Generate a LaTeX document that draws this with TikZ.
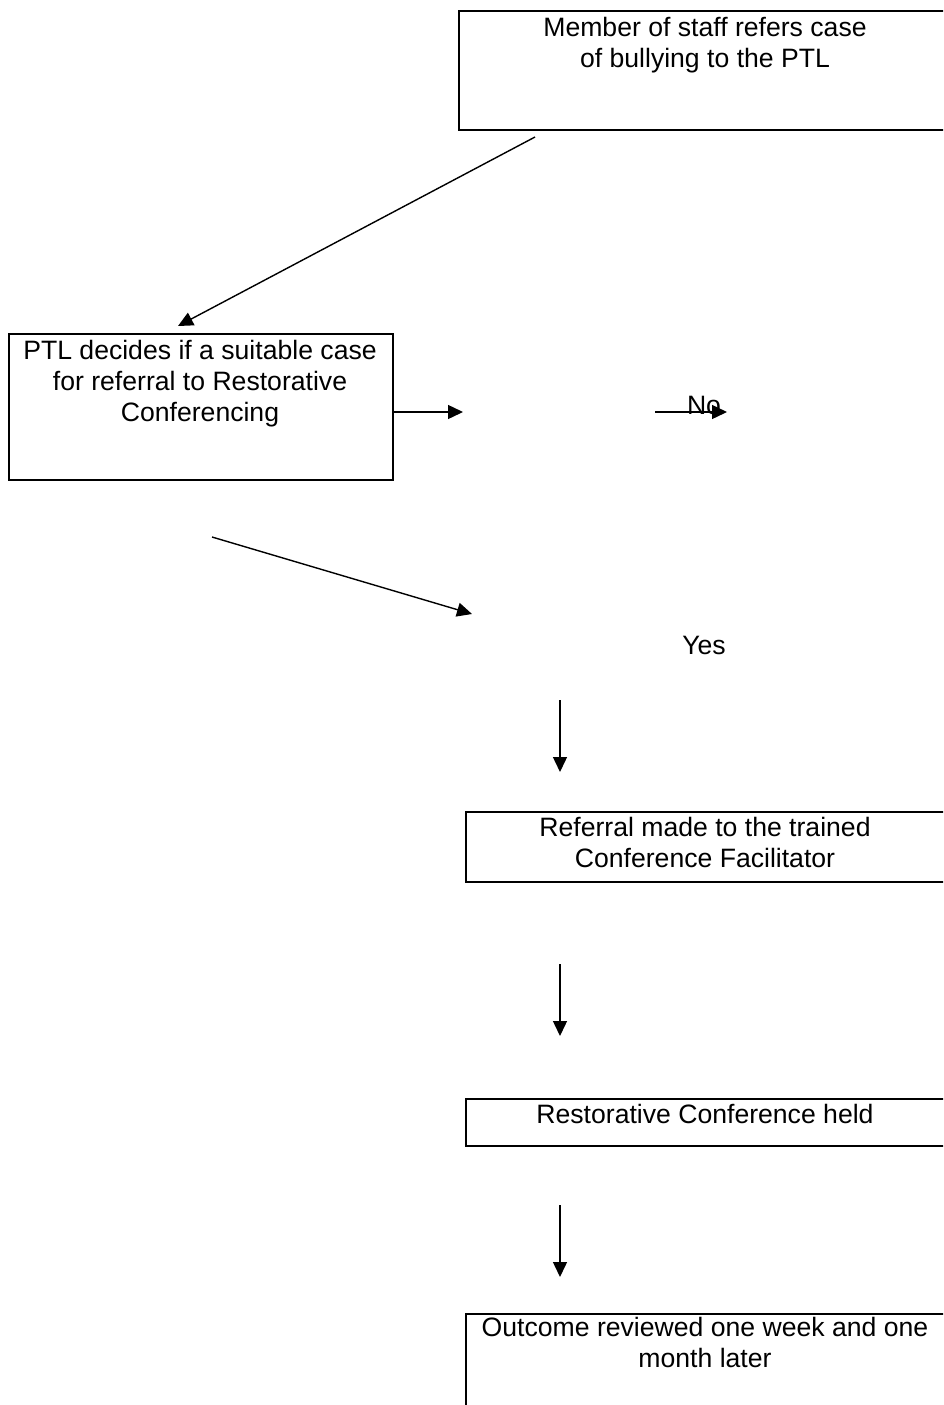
\documentclass[tikz,border=0pt]{standalone}
\usepackage{fontspec}
\setmainfont{Liberation Sans}
\usetikzlibrary{arrows.meta}
\begin{document}
\begin{tikzpicture}[x=1pt,y=-1pt,
  box/.style={draw,line width=1.6pt,rectangle,inner sep=0pt,anchor=north west},
  txt/.style={anchor=north,inner sep=0pt,align=center,font=\fontsize{26.6}{31}\selectfont},
  lbl/.style={anchor=base,inner sep=0pt,font=\fontsize{26.6}{31}\selectfont},
  arr/.style={line width=1.4pt,-{Triangle[length=15pt,width=14pt]}}]
\useasboundingbox (0,0) rectangle (943,1405);
\clip (0,0) rectangle (943,1405);
% boxes
\node[box,minimum width=494pt,minimum height=119pt] (b1) at (458,10) {};
\node[box,minimum width=384pt,minimum height=146pt] (b2) at (8,333) {};
\node[box,minimum width=480pt,minimum height=70pt] (b3) at (465,811) {};
\node[box,minimum width=480pt,minimum height=47pt] (b4) at (465,1098) {};
\node[box,minimum width=480pt,minimum height=120pt] (b5) at (465,1313) {};
% texts
\node[txt] (t1) at (705,17.5) {Member of staff refers case\\of bullying to the PTL};
\node[txt] (t2) at (200,340) {PTL decides if a suitable case\\for referral to Restorative\\Conferencing};
\node[txt] (t3) at (705,817.5) {Referral made to the trained\\Conference Facilitator};
\node[txt] (t4) at (705,1104.5) {Restorative Conference held};
\node[txt] (t5) at (705,1317) {Outcome reviewed one week and one\\month later};
\node[lbl] (no) at (704,414) {No};
\node[lbl] (yes) at (704,654) {Yes};
% connector end points
\coordinate (a1s) at (535,137);
\coordinate (a1e) at (178,326);
\coordinate (a2s) at (b2.east |- 0,412);
\coordinate (a2e) at (463,412);
\coordinate (a3s) at (655,412);
\coordinate (a3e) at (727,412);
\coordinate (a4s) at (212,537);
\coordinate (a4e) at (472,614);
\coordinate (a5s) at (560,700);
\coordinate (a5e) at (560,772);
\coordinate (a6s) at (560,964);
\coordinate (a6e) at (560,1036);
\coordinate (a7s) at (560,1205);
\coordinate (a7e) at (560,1277);
% connectors
\draw[arr] (a1s) -- (a1e);
\draw[arr] (a2s) -- (a2e);
\draw[arr] (a3s) -- (a3e);
\draw[arr] (a4s) -- (a4e);
\draw[arr] (a5s) -- (a5e);
\draw[arr] (a6s) -- (a6e);
\draw[arr] (a7s) -- (a7e);
\end{tikzpicture}
\end{document}
